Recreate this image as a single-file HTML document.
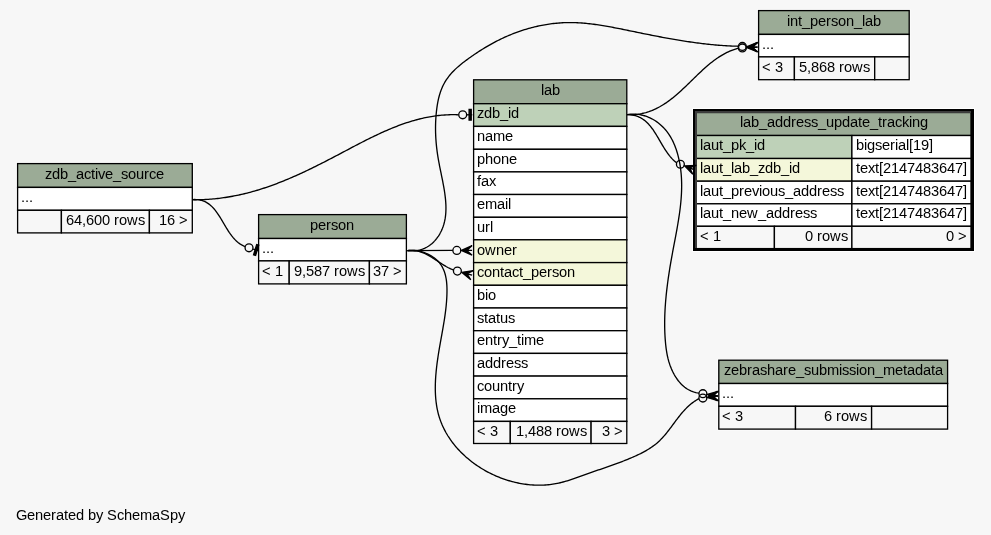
<!DOCTYPE html>
<html><head><meta charset="utf-8"><style>
html,body{margin:0;padding:0;background:#f7f7f7;width:991px;height:535px;overflow:hidden}
svg{display:block;will-change:transform}
text{font-family:"Liberation Sans", sans-serif;font-size:14.6667px;fill:#000}
</style></head><body>
<svg width="991" height="535" viewBox="0 0 991 535">
<rect x="0" y="0" width="991" height="535" fill="#f7f7f7"/>
<rect x="16.30" y="162.30" width="177.30" height="71.90" fill="#fff"/>
<rect x="17.60" y="163.60" width="174.70" height="23.80" fill="#9bab96" stroke="#000" stroke-width="1.33"/>
<rect x="17.60" y="187.40" width="174.70" height="22.90" fill="#ffffff" stroke="#000" stroke-width="1.33"/>
<rect x="17.60" y="210.30" width="43.80" height="22.60" fill="#f7f7f7" stroke="#000" stroke-width="1.33"/>
<rect x="61.40" y="210.30" width="88.00" height="22.60" fill="#f7f7f7" stroke="#000" stroke-width="1.33"/>
<rect x="149.40" y="210.30" width="42.90" height="22.60" fill="#f7f7f7" stroke="#000" stroke-width="1.33"/>
<text x="45.00 52.00 60.00 68.00 76.00 84.00 91.00 95.00 98.00 105.00 113.00 121.00 128.00 136.00 144.00 149.00 156.00" y="179.00">zdb_active_source</text>
<text x="21.00 25.00 29.00" y="202.00">...</text>
<text x="66.00 74.00 82.00 86.00 94.00 102.00 110.00 114.00 119.00 127.00 138.00" y="225.00">64,600 rows</text>
<text x="159.00 167.00 175.00 179.00" y="225.00">16 &gt;</text>
<rect x="257.30" y="213.30" width="150.40" height="71.90" fill="#fff"/>
<rect x="258.60" y="214.60" width="147.80" height="23.90" fill="#9bab96" stroke="#000" stroke-width="1.33"/>
<rect x="258.60" y="238.50" width="147.80" height="22.40" fill="#ffffff" stroke="#000" stroke-width="1.33"/>
<rect x="258.60" y="260.90" width="30.60" height="23.00" fill="#f7f7f7" stroke="#000" stroke-width="1.33"/>
<rect x="289.20" y="260.90" width="80.20" height="23.00" fill="#f7f7f7" stroke="#000" stroke-width="1.33"/>
<rect x="369.40" y="260.90" width="37.00" height="23.00" fill="#f7f7f7" stroke="#000" stroke-width="1.33"/>
<text x="310.00 318.00 326.00 331.00 338.00 346.00" y="230.00">person</text>
<text x="262.00 266.00 270.00" y="253.00">...</text>
<text x="262.00 271.00 275.00" y="276.00">&lt; 1</text>
<text x="294.00 302.00 306.00 314.00 322.00 330.00 334.00 339.00 347.00 358.00" y="276.00">9,587 rows</text>
<text x="373.00 381.00 389.00 393.00" y="276.00">37 &gt;</text>
<rect x="757.30" y="9.30" width="153.20" height="71.70" fill="#fff"/>
<rect x="758.60" y="10.60" width="150.60" height="23.80" fill="#9bab96" stroke="#000" stroke-width="1.33"/>
<rect x="758.60" y="34.40" width="150.60" height="22.50" fill="#ffffff" stroke="#000" stroke-width="1.33"/>
<rect x="758.60" y="56.90" width="35.80" height="22.80" fill="#f7f7f7" stroke="#000" stroke-width="1.33"/>
<rect x="794.40" y="56.90" width="80.30" height="22.80" fill="#f7f7f7" stroke="#000" stroke-width="1.33"/>
<rect x="874.70" y="56.90" width="34.50" height="22.80" fill="#f7f7f7" stroke="#000" stroke-width="1.33"/>
<text x="787.00 790.00 798.00 802.00 810.00 818.00 826.00 831.00 838.00 846.00 854.00 862.00 865.00 873.00" y="26.00">int_person_lab</text>
<text x="762.00 766.00 770.00" y="49.00">...</text>
<text x="762.00 771.00 775.00" y="72.00">&lt; 3</text>
<text x="799.00 807.00 811.00 819.00 827.00 835.00 839.00 844.00 852.00 863.00" y="72.00">5,868 rows</text>
<rect x="717.50" y="358.90" width="231.40" height="71.50" fill="#fff"/>
<rect x="718.80" y="360.20" width="228.80" height="23.30" fill="#9bab96" stroke="#000" stroke-width="1.33"/>
<rect x="718.80" y="383.50" width="228.80" height="22.80" fill="#ffffff" stroke="#000" stroke-width="1.33"/>
<rect x="718.80" y="406.30" width="76.70" height="22.80" fill="#f7f7f7" stroke="#000" stroke-width="1.33"/>
<rect x="795.50" y="406.30" width="76.10" height="22.80" fill="#f7f7f7" stroke="#000" stroke-width="1.33"/>
<rect x="871.60" y="406.30" width="76.00" height="22.80" fill="#f7f7f7" stroke="#000" stroke-width="1.33"/>
<text x="724.00 731.00 739.00 747.00 752.00 760.00 767.00 775.00 783.00 788.00 796.00 804.00 811.00 819.00 827.00 839.00 842.00 849.00 856.00 859.00 867.00 875.00 883.00 895.00 903.00 907.00 915.00 923.00 931.00 935.00" y="375.00">zebrashare_submission_metadata</text>
<text x="722.00 726.00 730.00" y="398.00">...</text>
<text x="722.00 731.00 735.00" y="421.00">&lt; 3</text>
<text x="824.00 832.00 836.00 841.00 849.00 860.00" y="421.00">6 rows</text>
<rect x="472.30" y="78.50" width="155.80" height="366.30" fill="#fff"/>
<rect x="473.60" y="79.80" width="153.20" height="23.90" fill="#9bab96" stroke="#000" stroke-width="1.33"/>
<rect x="473.60" y="103.70" width="153.20" height="22.70" fill="#bed1b8" stroke="#000" stroke-width="1.33"/>
<rect x="473.60" y="126.40" width="153.20" height="22.90" fill="#ffffff" stroke="#000" stroke-width="1.33"/>
<rect x="473.60" y="149.30" width="153.20" height="22.60" fill="#ffffff" stroke="#000" stroke-width="1.33"/>
<rect x="473.60" y="171.90" width="153.20" height="22.60" fill="#ffffff" stroke="#000" stroke-width="1.33"/>
<rect x="473.60" y="194.50" width="153.20" height="22.80" fill="#ffffff" stroke="#000" stroke-width="1.33"/>
<rect x="473.60" y="217.30" width="153.20" height="22.50" fill="#ffffff" stroke="#000" stroke-width="1.33"/>
<rect x="473.60" y="239.80" width="153.20" height="22.80" fill="#f4f7da" stroke="#000" stroke-width="1.33"/>
<rect x="473.60" y="262.60" width="153.20" height="22.70" fill="#f4f7da" stroke="#000" stroke-width="1.33"/>
<rect x="473.60" y="285.30" width="153.20" height="22.70" fill="#ffffff" stroke="#000" stroke-width="1.33"/>
<rect x="473.60" y="308.00" width="153.20" height="22.70" fill="#ffffff" stroke="#000" stroke-width="1.33"/>
<rect x="473.60" y="330.70" width="153.20" height="22.70" fill="#ffffff" stroke="#000" stroke-width="1.33"/>
<rect x="473.60" y="353.40" width="153.20" height="22.70" fill="#ffffff" stroke="#000" stroke-width="1.33"/>
<rect x="473.60" y="376.10" width="153.20" height="22.70" fill="#ffffff" stroke="#000" stroke-width="1.33"/>
<rect x="473.60" y="398.80" width="153.20" height="22.60" fill="#ffffff" stroke="#000" stroke-width="1.33"/>
<rect x="473.60" y="421.40" width="36.70" height="22.10" fill="#f7f7f7" stroke="#000" stroke-width="1.33"/>
<rect x="510.30" y="421.40" width="80.80" height="22.10" fill="#f7f7f7" stroke="#000" stroke-width="1.33"/>
<rect x="591.10" y="421.40" width="35.70" height="22.10" fill="#f7f7f7" stroke="#000" stroke-width="1.33"/>
<text x="541.00 544.00 552.00" y="95.00">lab</text>
<text x="477.00 484.00 492.00 500.00 508.00 511.00" y="118.00">zdb_id</text>
<text x="477.00 485.00 493.00 505.00" y="141.00">name</text>
<text x="477.00 485.00 493.00 501.00 509.00" y="164.00">phone</text>
<text x="477.00 481.00 489.00" y="186.00">fax</text>
<text x="477.00 485.00 497.00 505.00 508.00" y="209.00">email</text>
<text x="477.00 485.00 490.00" y="232.00">url</text>
<text x="477.00 485.00 496.00 504.00 512.00" y="255.00">owner</text>
<text x="477.00 484.00 492.00 500.00 504.00 512.00 519.00 523.00 531.00 539.00 547.00 552.00 559.00 567.00" y="277.00">contact_person</text>
<text x="477.00 485.00 488.00" y="300.00">bio</text>
<text x="477.00 484.00 488.00 496.00 500.00 508.00" y="323.00">status</text>
<text x="477.00 485.00 493.00 497.00 502.00 509.00 517.00 521.00 524.00 536.00" y="345.00">entry_time</text>
<text x="477.00 485.00 493.00 501.00 506.00 514.00 521.00" y="368.00">address</text>
<text x="477.00 484.00 492.00 500.00 508.00 512.00 517.00" y="391.00">country</text>
<text x="477.00 480.00 492.00 500.00 508.00" y="413.00">image</text>
<text x="477.00 486.00 490.00" y="436.00">&lt; 3</text>
<text x="516.00 524.00 528.00 536.00 544.00 552.00 556.00 561.00 569.00 580.00" y="436.00">1,488 rows</text>
<text x="602.00 610.00 614.00" y="436.00">3 &gt;</text>
<rect x="692" y="108" width="283" height="144" fill="#fff"/>
<rect x="696.20" y="112.50" width="274.80" height="23.00" fill="#9bab96" stroke="#000" stroke-width="1.33"/>
<rect x="696.20" y="135.50" width="155.70" height="23.00" fill="#bed1b8" stroke="#000" stroke-width="1.33"/>
<rect x="851.90" y="135.50" width="119.10" height="23.00" fill="#ffffff" stroke="#000" stroke-width="1.33"/>
<rect x="696.20" y="158.50" width="155.70" height="22.70" fill="#f4f7da" stroke="#000" stroke-width="1.33"/>
<rect x="851.90" y="158.50" width="119.10" height="22.70" fill="#ffffff" stroke="#000" stroke-width="1.33"/>
<rect x="696.20" y="181.20" width="155.70" height="22.60" fill="#ffffff" stroke="#000" stroke-width="1.33"/>
<rect x="851.90" y="181.20" width="119.10" height="22.60" fill="#ffffff" stroke="#000" stroke-width="1.33"/>
<rect x="696.20" y="203.80" width="155.70" height="22.50" fill="#ffffff" stroke="#000" stroke-width="1.33"/>
<rect x="851.90" y="203.80" width="119.10" height="22.50" fill="#ffffff" stroke="#000" stroke-width="1.33"/>
<rect x="696.20" y="226.30" width="78.20" height="22.30" fill="#f7f7f7" stroke="#000" stroke-width="1.33"/>
<rect x="774.40" y="226.30" width="77.50" height="22.30" fill="#f7f7f7" stroke="#000" stroke-width="1.33"/>
<rect x="851.90" y="226.30" width="119.10" height="22.30" fill="#f7f7f7" stroke="#000" stroke-width="1.33"/>
<text x="740.00 743.00 751.00 759.00 767.00 775.00 783.00 791.00 796.00 804.00 811.00 818.00 826.00 834.00 842.00 850.00 858.00 862.00 870.00 878.00 882.00 887.00 895.00 902.00 909.00 912.00 920.00" y="127.00">lab_address_update_tracking</text>
<text x="700.00 703.00 711.00 719.00 723.00 731.00 739.00 746.00 754.00 757.00" y="150.00">laut_pk_id</text>
<text x="856.00 864.00 867.00 875.00 882.00 890.00 895.00 898.00 906.00 909.00 913.00 921.00 929.00" y="150.00">bigserial[19]</text>
<text x="700.00 703.00 711.00 719.00 723.00 731.00 734.00 742.00 750.00 758.00 765.00 773.00 781.00 789.00 792.00" y="173.00">laut_lab_zdb_id</text>
<text x="856.00 860.00 868.00 875.00 879.00 883.00 891.00 899.00 907.00 915.00 923.00 931.00 939.00 947.00 955.00 963.00" y="173.00">text[2147483647]</text>
<text x="700.00 703.00 711.00 719.00 723.00 731.00 739.00 744.00 752.00 759.00 762.00 770.00 778.00 785.00 793.00 801.00 809.00 817.00 822.00 830.00 837.00" y="196.00">laut_previous_address</text>
<text x="856.00 860.00 868.00 875.00 879.00 883.00 891.00 899.00 907.00 915.00 923.00 931.00 939.00 947.00 955.00 963.00" y="196.00">text[2147483647]</text>
<text x="700.00 703.00 711.00 719.00 723.00 731.00 739.00 747.00 758.00 766.00 774.00 782.00 790.00 795.00 803.00 810.00" y="218.00">laut_new_address</text>
<text x="856.00 860.00 868.00 875.00 879.00 883.00 891.00 899.00 907.00 915.00 923.00 931.00 939.00 947.00 955.00 963.00" y="218.00">text[2147483647]</text>
<text x="700.00 709.00 713.00" y="241.00">&lt; 1</text>
<text x="805.00 813.00 817.00 822.00 830.00 841.00" y="241.00">0 rows</text>
<text x="946.00 954.00 958.00" y="241.00">0 &gt;</text>
<rect x="693" y="109" width="2" height="142" fill="#000"/>
<rect x="695" y="111" width="2" height="138" fill="#3c3c3c"/>
<rect x="693" y="109" width="281" height="2" fill="#000"/>
<rect x="695" y="111" width="276" height="2" fill="#3c3c3c"/>
<rect x="971" y="109" width="3" height="142" fill="#000"/>
<rect x="693" y="248" width="281" height="3" fill="#000"/>
<polygon points="471.23,120.13 471.23,109.47 469.10,109.47 469.10,120.13" fill="#000" stroke="#000" stroke-width="1.33"/>
<line x1="472.30" y1="114.80" x2="466.97" y2="114.80" stroke="#000" stroke-width="1.33"/>
<circle cx="462.70" cy="114.80" r="3.95" fill="none" stroke="#000" stroke-width="1.33"/>
<path d="M192.80,199.70 L194.38,199.71 L195.97,199.72 L197.54,199.70 L199.12,199.68 L200.68,199.65 L202.25,199.60 L203.80,199.54 L205.36,199.47 L206.91,199.38 L208.45,199.29 L209.99,199.18 L211.53,199.06 L213.06,198.93 L214.59,198.79 L216.11,198.64 L217.63,198.47 L219.14,198.30 L220.65,198.11 L222.16,197.92 L223.66,197.71 L225.16,197.49 L226.66,197.26 L228.15,197.02 L229.64,196.77 L231.12,196.52 L232.60,196.25 L234.08,195.97 L235.55,195.68 L237.02,195.38 L238.48,195.07 L239.95,194.75 L241.40,194.42 L242.86,194.09 L244.31,193.74 L245.76,193.39 L247.21,193.02 L248.65,192.65 L250.09,192.27 L251.53,191.88 L252.96,191.48 L254.39,191.07 L255.82,190.66 L257.25,190.24 L258.67,189.81 L260.09,189.37 L261.50,188.92 L262.92,188.46 L264.33,188.00 L265.74,187.53 L267.15,187.05 L268.55,186.57 L269.95,186.08 L271.35,185.58 L272.75,185.07 L274.15,184.56 L275.54,184.04 L276.93,183.52 L278.32,182.98 L279.71,182.44 L281.09,181.90 L282.47,181.35 L283.85,180.79 L285.23,180.23 L286.61,179.66 L287.99,179.08 L289.36,178.50 L290.73,177.92 L292.10,177.32 L293.47,176.73 L294.84,176.13 L296.20,175.52 L297.57,174.91 L298.93,174.29 L300.29,173.67 L301.66,173.04 L303.02,172.41 L304.37,171.78 L305.73,171.14 L307.09,170.49 L308.44,169.85 L309.80,169.19 L311.15,168.54 L312.50,167.88 L313.86,167.22 L315.21,166.55 L316.56,165.88 L317.91,165.21 L319.26,164.53 L320.60,163.85 L321.95,163.17 L323.30,162.48 L324.65,161.79 L325.99,161.10 L327.34,160.41 L328.69,159.71 L330.03,159.02 L331.38,158.32 L332.73,157.61 L334.07,156.91 L335.42,156.20 L336.76,155.50 L338.11,154.79 L339.45,154.08 L340.80,153.36 L342.15,152.65 L343.49,151.94 L344.84,151.22 L346.19,150.51 L347.54,149.80 L348.89,149.08 L350.23,148.37 L351.58,147.66 L352.93,146.95 L354.29,146.24 L355.64,145.53 L356.99,144.82 L358.34,144.12 L359.70,143.42 L361.05,142.72 L362.41,142.03 L363.77,141.33 L365.13,140.64 L366.49,139.96 L367.85,139.28 L369.21,138.60 L370.58,137.92 L371.94,137.25 L373.31,136.59 L374.68,135.93 L376.05,135.28 L377.42,134.63 L378.79,133.99 L380.16,133.35 L381.54,132.72 L382.92,132.10 L384.30,131.48 L385.68,130.87 L387.07,130.27 L388.45,129.67 L389.84,129.09 L391.23,128.51 L392.63,127.94 L394.02,127.37 L395.42,126.82 L396.82,126.28 L398.22,125.74 L399.62,125.21 L401.03,124.70 L402.44,124.19 L403.85,123.70 L405.27,123.21 L406.69,122.74 L408.11,122.27 L409.53,121.82 L410.96,121.38 L412.38,120.95 L413.82,120.53 L415.25,120.13 L416.69,119.74 L418.13,119.36 L419.58,118.99 L421.02,118.63 L422.47,118.29 L423.93,117.97 L425.39,117.65 L426.85,117.36 L428.31,117.07 L429.78,116.80 L431.25,116.55 L432.73,116.31 L434.21,116.09 L435.69,115.88 L437.18,115.68 L438.67,115.51 L440.16,115.35 L441.66,115.21 L443.17,115.08 L444.67,114.97 L446.18,114.88 L447.70,114.80 L449.22,114.75 L450.74,114.71 L452.27,114.69 L453.80,114.69 L455.34,114.71 L456.88,114.74 L458.43,114.80" fill="none" stroke="#000" stroke-width="1.33" stroke-linejoin="round"/>
<polygon points="255.62,255.39 258.74,245.19 256.70,244.56 253.58,254.77" fill="#000" stroke="#000" stroke-width="1.33"/>
<line x1="258.20" y1="250.60" x2="253.10" y2="249.04" stroke="#000" stroke-width="1.33"/>
<circle cx="249.02" cy="247.79" r="3.95" fill="none" stroke="#000" stroke-width="1.33"/>
<path d="M192.80,199.60 L194.56,199.52 L196.26,199.55 L197.88,199.68 L199.44,199.91 L200.93,200.23 L202.36,200.64 L203.74,201.13 L205.06,201.70 L206.33,202.36 L207.54,203.08 L208.71,203.88 L209.84,204.74 L210.93,205.66 L211.97,206.64 L212.99,207.67 L213.96,208.75 L214.91,209.88 L215.84,211.06 L216.73,212.27 L217.61,213.51 L218.47,214.79 L219.31,216.09 L220.14,217.41 L220.96,218.76 L221.77,220.11 L222.58,221.48 L223.39,222.86 L224.20,224.24 L225.01,225.62 L225.82,226.99 L226.65,228.36 L227.49,229.72 L228.35,231.05 L229.22,232.37 L230.12,233.67 L231.04,234.93 L231.98,236.17 L232.95,237.37 L233.96,238.53 L235.00,239.64 L236.08,240.71 L237.20,241.73 L238.37,242.69 L239.58,243.60 L240.83,244.44 L242.15,245.21 L243.51,245.92 L244.93,246.55" fill="none" stroke="#000" stroke-width="1.33" stroke-linejoin="round"/>
<polygon points="461.43,250.40 472.10,245.60 466.76,250.40 472.10,250.40 466.76,250.40 472.10,255.20" fill="#000" stroke="#000" stroke-width="1.33" stroke-linejoin="miter"/>
<circle cx="456.83" cy="250.40" r="3.95" fill="none" stroke="#000" stroke-width="1.33"/>
<path d="M407.50,250.60 L452.89,250.40" fill="none" stroke="#000" stroke-width="1.33" stroke-linejoin="round"/>
<polygon points="461.82,272.33 473.39,270.57 466.96,273.77 472.10,275.20 466.96,273.77 470.81,279.83" fill="#000" stroke="#000" stroke-width="1.33" stroke-linejoin="miter"/>
<circle cx="457.39" cy="271.10" r="3.95" fill="none" stroke="#000" stroke-width="1.33"/>
<path d="M407.50,250.60 L409.21,250.42 L410.89,250.34 L412.53,250.36 L414.13,250.47 L415.71,250.68 L417.26,250.96 L418.78,251.33 L420.28,251.77 L421.76,252.27 L423.21,252.84 L424.64,253.46 L426.06,254.14 L427.46,254.86 L428.85,255.62 L430.22,256.42 L431.59,257.24 L432.95,258.09 L434.30,258.96 L435.64,259.84 L436.99,260.73 L438.33,261.62 L439.68,262.51 L441.02,263.39 L442.38,264.25 L443.74,265.10 L445.10,265.92 L446.48,266.72 L447.87,267.47 L449.28,268.19 L450.70,268.86 L452.14,269.48 L453.60,270.04" fill="none" stroke="#000" stroke-width="1.33" stroke-linejoin="round"/>
<polygon points="746.94,46.67 757.84,42.40 752.27,46.93 757.60,47.20 752.27,46.93 757.36,52.00" fill="#000" stroke="#000" stroke-width="1.33" stroke-linejoin="miter"/>
<circle cx="742.35" cy="46.44" r="3.95" fill="none" stroke="#000" stroke-width="1.33"/>
<path d="M407.50,250.60 L409.23,250.80 L410.92,250.92 L412.58,250.94 L414.20,250.88 L415.79,250.75 L417.34,250.53 L418.85,250.24 L420.32,249.87 L421.75,249.43 L423.15,248.92 L424.50,248.35 L425.82,247.71 L427.10,247.01 L428.34,246.25 L429.54,245.43 L430.69,244.57 L431.81,243.65 L432.89,242.68 L433.92,241.67 L434.91,240.61 L435.86,239.52 L436.77,238.39 L437.63,237.22 L438.45,236.03 L439.23,234.80 L439.97,233.54 L440.65,232.27 L441.30,230.97 L441.90,229.65 L442.45,228.32 L442.96,226.98 L443.43,225.62 L443.85,224.25 L444.22,222.87 L444.56,221.48 L444.86,220.08 L445.12,218.68 L445.34,217.26 L445.52,215.83 L445.67,214.39 L445.79,212.94 L445.87,211.49 L445.92,210.03 L445.95,208.56 L445.94,207.08 L445.91,205.60 L445.85,204.11 L445.76,202.61 L445.66,201.11 L445.53,199.60 L445.37,198.09 L445.20,196.57 L445.01,195.05 L444.81,193.52 L444.58,191.99 L444.35,190.46 L444.09,188.92 L443.83,187.38 L443.55,185.84 L443.27,184.30 L442.98,182.76 L442.68,181.21 L442.37,179.66 L442.06,178.12 L441.74,176.57 L441.43,175.02 L441.11,173.48 L440.79,171.93 L440.47,170.39 L440.16,168.84 L439.85,167.30 L439.54,165.76 L439.25,164.23 L438.95,162.69 L438.67,161.16 L438.40,159.64 L438.14,158.11 L437.89,156.60 L437.66,155.08 L437.43,153.57 L437.22,152.06 L437.02,150.56 L436.83,149.05 L436.65,147.55 L436.49,146.06 L436.34,144.56 L436.20,143.07 L436.07,141.58 L435.96,140.09 L435.86,138.60 L435.77,137.11 L435.70,135.62 L435.64,134.14 L435.59,132.66 L435.56,131.17 L435.54,129.69 L435.53,128.20 L435.54,126.72 L435.56,125.24 L435.60,123.75 L435.64,122.27 L435.71,120.78 L435.79,119.29 L435.88,117.80 L435.99,116.31 L436.11,114.82 L436.25,113.33 L436.40,111.83 L436.56,110.33 L436.75,108.84 L436.95,107.34 L437.17,105.84 L437.41,104.35 L437.67,102.86 L437.96,101.38 L438.27,99.90 L438.60,98.44 L438.96,96.98 L439.35,95.53 L439.77,94.10 L440.21,92.68 L440.69,91.27 L441.20,89.88 L441.75,88.50 L442.33,87.15 L442.95,85.81 L443.60,84.50 L444.29,83.21 L445.02,81.94 L445.79,80.69 L446.59,79.46 L447.43,78.26 L448.29,77.07 L449.19,75.91 L450.12,74.77 L451.08,73.65 L452.06,72.55 L453.07,71.48 L454.11,70.42 L455.16,69.38 L456.24,68.37 L457.35,67.37 L458.47,66.38 L459.60,65.41 L460.76,64.46 L461.93,63.51 L463.12,62.58 L464.32,61.66 L465.53,60.75 L466.75,59.85 L467.98,58.96 L469.22,58.07 L470.47,57.19 L471.72,56.31 L472.98,55.44 L474.25,54.57 L475.52,53.71 L476.80,52.86 L478.08,52.02 L479.37,51.18 L480.66,50.35 L481.96,49.53 L483.27,48.72 L484.58,47.92 L485.90,47.13 L487.22,46.34 L488.54,45.57 L489.87,44.81 L491.21,44.06 L492.55,43.33 L493.89,42.60 L495.24,41.89 L496.59,41.18 L497.95,40.49 L499.31,39.81 L500.67,39.15 L502.04,38.49 L503.41,37.85 L504.79,37.22 L506.17,36.60 L507.56,35.99 L508.95,35.40 L510.34,34.82 L511.74,34.25 L513.13,33.70 L514.54,33.15 L515.94,32.62 L517.36,32.10 L518.77,31.60 L520.19,31.11 L521.61,30.63 L523.03,30.16 L524.45,29.71 L525.88,29.27 L527.32,28.84 L528.75,28.43 L530.19,28.03 L531.63,27.65 L533.07,27.27 L534.52,26.91 L535.97,26.57 L537.42,26.24 L538.88,25.92 L540.33,25.62 L541.79,25.33 L543.25,25.05 L544.72,24.79 L546.18,24.54 L547.65,24.31 L549.12,24.09 L550.59,23.89 L552.07,23.70 L553.54,23.52 L555.02,23.36 L556.50,23.22 L557.98,23.09 L559.46,22.97 L560.95,22.87 L562.43,22.78 L563.92,22.71 L565.41,22.66 L566.90,22.62 L568.39,22.59 L569.88,22.58 L571.37,22.59 L572.87,22.61 L574.36,22.64 L575.86,22.69 L577.36,22.76 L578.86,22.83 L580.36,22.93 L581.86,23.03 L583.36,23.15 L584.86,23.28 L586.36,23.42 L587.86,23.57 L589.36,23.73 L590.87,23.90 L592.37,24.09 L593.87,24.28 L595.38,24.48 L596.88,24.70 L598.39,24.92 L599.89,25.14 L601.39,25.38 L602.90,25.62 L604.40,25.87 L605.90,26.13 L607.41,26.39 L608.91,26.66 L610.41,26.94 L611.91,27.22 L613.41,27.50 L614.91,27.79 L616.41,28.08 L617.91,28.37 L619.41,28.67 L620.91,28.97 L622.40,29.27 L623.90,29.57 L625.39,29.88 L626.89,30.19 L628.38,30.49 L629.87,30.80 L631.36,31.10 L632.85,31.41 L634.33,31.71 L635.82,32.02 L637.30,32.32 L638.79,32.63 L640.27,32.93 L641.75,33.23 L643.23,33.53 L644.71,33.83 L646.19,34.13 L647.67,34.42 L649.14,34.72 L650.62,35.01 L652.10,35.30 L653.57,35.59 L655.05,35.88 L656.52,36.16 L658.00,36.45 L659.47,36.73 L660.95,37.01 L662.42,37.29 L663.89,37.56 L665.37,37.83 L666.84,38.10 L668.31,38.37 L669.78,38.64 L671.26,38.90 L672.73,39.16 L674.20,39.41 L675.68,39.66 L677.15,39.91 L678.62,40.16 L680.10,40.40 L681.57,40.64 L683.05,40.88 L684.52,41.11 L686.00,41.34 L687.48,41.56 L688.95,41.78 L690.43,42.00 L691.91,42.21 L693.39,42.42 L694.87,42.62 L696.35,42.82 L697.84,43.02 L699.32,43.21 L700.81,43.39 L702.29,43.57 L703.78,43.75 L705.27,43.92 L706.76,44.09 L708.25,44.25 L709.74,44.40 L711.23,44.55 L712.73,44.70 L714.22,44.84 L715.72,44.97 L717.22,45.10 L718.72,45.22 L720.23,45.34 L721.73,45.45 L723.24,45.55 L724.75,45.65 L726.26,45.74 L727.77,45.83 L729.28,45.91 L730.80,45.98 L732.32,46.04 L733.84,46.10 L735.36,46.16 L736.89,46.20 L738.42,46.24" fill="none" stroke="#000" stroke-width="1.33" stroke-linejoin="round"/>
<polygon points="746.94,47.73 757.36,42.40 752.27,47.47 757.60,47.20 752.27,47.47 757.84,52.00" fill="#000" stroke="#000" stroke-width="1.33" stroke-linejoin="miter"/>
<circle cx="742.35" cy="47.96" r="3.95" fill="none" stroke="#000" stroke-width="1.33"/>
<path d="M627.20,114.60 L628.88,114.66 L630.54,114.68 L632.17,114.66 L633.79,114.59 L635.38,114.47 L636.95,114.31 L638.51,114.11 L640.04,113.87 L641.56,113.59 L643.05,113.27 L644.53,112.92 L645.99,112.52 L647.43,112.09 L648.86,111.63 L650.26,111.13 L651.66,110.60 L653.03,110.03 L654.40,109.44 L655.74,108.81 L657.07,108.16 L658.39,107.48 L659.70,106.77 L660.99,106.03 L662.27,105.27 L663.54,104.48 L664.79,103.67 L666.04,102.84 L667.27,101.98 L668.49,101.11 L669.70,100.22 L670.91,99.30 L672.10,98.37 L673.29,97.43 L674.46,96.46 L675.63,95.49 L676.80,94.49 L677.95,93.49 L679.10,92.47 L680.24,91.45 L681.38,90.41 L682.51,89.36 L683.64,88.31 L684.76,87.25 L685.88,86.18 L686.99,85.11 L688.10,84.03 L689.21,82.95 L690.32,81.87 L691.43,80.79 L692.53,79.70 L693.64,78.62 L694.75,77.54 L695.86,76.46 L696.97,75.38 L698.08,74.31 L699.19,73.25 L700.31,72.19 L701.44,71.14 L702.56,70.09 L703.70,69.06 L704.84,68.03 L705.98,67.02 L707.13,66.02 L708.29,65.03 L709.46,64.06 L710.64,63.10 L711.82,62.16 L713.02,61.23 L714.23,60.33 L715.45,59.44 L716.67,58.57 L717.92,57.72 L719.17,56.89 L720.44,56.09 L721.72,55.31 L723.02,54.56 L724.33,53.83 L725.66,53.12 L727.00,52.45 L728.36,51.80 L729.74,51.19 L731.14,50.60 L732.56,50.04 L733.99,49.52 L735.45,49.03 L736.92,48.58 L738.42,48.16" fill="none" stroke="#000" stroke-width="1.33" stroke-linejoin="round"/>
<polygon points="684.66,165.91 696.35,165.33 689.63,167.86 694.60,169.80 689.63,167.86 692.85,174.27" fill="#000" stroke="#000" stroke-width="1.33" stroke-linejoin="miter"/>
<circle cx="680.38" cy="164.24" r="3.95" fill="none" stroke="#000" stroke-width="1.33"/>
<path d="M627.20,114.60 L628.97,114.64 L630.67,114.77 L632.30,114.98 L633.87,115.28 L635.39,115.67 L636.84,116.13 L638.24,116.66 L639.59,117.27 L640.88,117.95 L642.13,118.69 L643.33,119.49 L644.49,120.35 L645.60,121.27 L646.68,122.24 L647.73,123.26 L648.74,124.33 L649.72,125.44 L650.67,126.59 L651.59,127.77 L652.49,128.99 L653.37,130.24 L654.23,131.52 L655.07,132.82 L655.90,134.14 L656.72,135.48 L657.53,136.83 L658.33,138.19 L659.13,139.56 L659.92,140.94 L660.72,142.31 L661.52,143.69 L662.32,145.06 L663.14,146.42 L663.96,147.77 L664.80,149.10 L665.65,150.42 L666.52,151.71 L667.41,152.99 L668.32,154.23 L669.25,155.44 L670.22,156.62 L671.21,157.76 L672.24,158.87 L673.30,159.92 L674.40,160.94 L675.53,161.90 L676.71,162.81" fill="none" stroke="#000" stroke-width="1.33" stroke-linejoin="round"/>
<polygon points="707.45,394.42 718.71,391.25 712.72,395.21 718.00,396.00 712.72,395.21 717.29,400.75" fill="#000" stroke="#000" stroke-width="1.33" stroke-linejoin="miter"/>
<circle cx="702.90" cy="393.73" r="3.95" fill="none" stroke="#000" stroke-width="1.33"/>
<path d="M627.20,114.60 L628.83,114.38 L630.46,114.23 L632.06,114.15 L633.66,114.13 L635.24,114.18 L636.80,114.29 L638.35,114.46 L639.88,114.69 L641.39,114.98 L642.88,115.33 L644.35,115.74 L645.80,116.19 L647.22,116.71 L648.63,117.27 L650.01,117.88 L651.37,118.54 L652.70,119.25 L654.01,120.01 L655.28,120.81 L656.53,121.65 L657.76,122.53 L658.95,123.46 L660.11,124.42 L661.24,125.42 L662.34,126.46 L663.41,127.53 L664.44,128.63 L665.44,129.76 L666.40,130.93 L667.33,132.12 L668.22,133.34 L669.07,134.59 L669.89,135.86 L670.67,137.15 L671.41,138.47 L672.13,139.80 L672.81,141.15 L673.45,142.52 L674.07,143.91 L674.65,145.31 L675.21,146.73 L675.74,148.15 L676.24,149.59 L676.71,151.03 L677.16,152.48 L677.58,153.94 L677.98,155.40 L678.35,156.86 L678.70,158.33 L679.03,159.79 L679.34,161.26 L679.63,162.73 L679.90,164.20 L680.14,165.67 L680.37,167.14 L680.57,168.61 L680.76,170.09 L680.93,171.56 L681.08,173.03 L681.21,174.51 L681.32,175.99 L681.42,177.47 L681.50,178.94 L681.56,180.42 L681.61,181.91 L681.64,183.39 L681.65,184.87 L681.65,186.35 L681.64,187.84 L681.61,189.32 L681.57,190.81 L681.51,192.30 L681.44,193.79 L681.36,195.28 L681.26,196.77 L681.16,198.26 L681.04,199.75 L680.91,201.24 L680.77,202.74 L680.62,204.23 L680.46,205.73 L680.29,207.22 L680.11,208.72 L679.92,210.22 L679.72,211.72 L679.51,213.22 L679.30,214.72 L679.08,216.22 L678.85,217.72 L678.62,219.22 L678.38,220.73 L678.13,222.23 L677.88,223.74 L677.62,225.24 L677.36,226.75 L677.09,228.26 L676.82,229.77 L676.55,231.28 L676.27,232.79 L675.99,234.30 L675.71,235.81 L675.43,237.32 L675.14,238.84 L674.86,240.35 L674.57,241.87 L674.28,243.38 L673.99,244.90 L673.70,246.42 L673.42,247.94 L673.13,249.46 L672.85,250.98 L672.56,252.50 L672.28,254.02 L672.00,255.54 L671.73,257.06 L671.46,258.58 L671.19,260.11 L670.92,261.63 L670.66,263.16 L670.40,264.68 L670.14,266.21 L669.89,267.73 L669.64,269.26 L669.40,270.79 L669.16,272.31 L668.93,273.84 L668.70,275.37 L668.47,276.89 L668.25,278.42 L668.04,279.94 L667.83,281.47 L667.62,283.00 L667.43,284.52 L667.23,286.04 L667.05,287.57 L666.86,289.09 L666.69,290.61 L666.52,292.14 L666.36,293.66 L666.20,295.18 L666.05,296.70 L665.91,298.22 L665.77,299.73 L665.64,301.25 L665.52,302.76 L665.41,304.28 L665.30,305.79 L665.20,307.30 L665.11,308.81 L665.03,310.32 L664.96,311.83 L664.89,313.33 L664.83,314.84 L664.78,316.34 L664.74,317.84 L664.71,319.34 L664.69,320.83 L664.67,322.33 L664.67,323.82 L664.67,325.31 L664.69,326.80 L664.71,328.29 L664.75,329.77 L664.79,331.25 L664.85,332.73 L664.91,334.21 L664.99,335.68 L665.07,337.15 L665.17,338.62 L665.28,340.09 L665.40,341.55 L665.53,343.01 L665.67,344.47 L665.83,345.93 L666.00,347.38 L666.19,348.83 L666.40,350.27 L666.62,351.71 L666.87,353.15 L667.14,354.59 L667.44,356.02 L667.76,357.45 L668.10,358.88 L668.48,360.30 L668.88,361.72 L669.32,363.13 L669.78,364.54 L670.28,365.95 L670.82,367.35 L671.39,368.75 L672.00,370.15 L672.65,371.53 L673.34,372.91 L674.06,374.27 L674.83,375.62 L675.63,376.94 L676.48,378.23 L677.37,379.50 L678.30,380.73 L679.27,381.93 L680.28,383.08 L681.33,384.19 L682.43,385.26 L683.57,386.27 L684.75,387.22 L685.98,388.12 L687.25,388.96 L688.57,389.73 L689.93,390.44 L691.33,391.08 L692.78,391.65 L694.27,392.14 L695.80,392.56 L697.38,392.90 L699.01,393.15" fill="none" stroke="#000" stroke-width="1.33" stroke-linejoin="round"/>
<polygon points="707.43,397.43 717.36,391.24 712.71,396.71 718.00,396.00 712.71,396.71 718.64,400.76" fill="#000" stroke="#000" stroke-width="1.33" stroke-linejoin="miter"/>
<circle cx="702.87" cy="398.04" r="3.95" fill="none" stroke="#000" stroke-width="1.33"/>
<path d="M407.50,250.60 L409.02,250.43 L410.55,250.34 L412.10,250.33 L413.66,250.39 L415.22,250.51 L416.79,250.71 L418.35,250.98 L419.90,251.31 L421.45,251.70 L422.97,252.16 L424.48,252.67 L425.97,253.25 L427.42,253.88 L428.85,254.57 L430.23,255.31 L431.58,256.10 L432.88,256.94 L434.14,257.83 L435.34,258.76 L436.48,259.74 L437.56,260.76 L438.57,261.82 L439.52,262.92 L440.39,264.06 L441.20,265.23 L441.94,266.44 L442.62,267.68 L443.24,268.94 L443.80,270.24 L444.31,271.56 L444.77,272.91 L445.17,274.27 L445.52,275.66 L445.83,277.07 L446.10,278.50 L446.33,279.94 L446.52,281.40 L446.67,282.86 L446.79,284.34 L446.88,285.83 L446.94,287.32 L446.98,288.82 L446.99,290.32 L446.98,291.82 L446.95,293.32 L446.91,294.82 L446.85,296.31 L446.78,297.81 L446.69,299.30 L446.59,300.79 L446.48,302.27 L446.35,303.76 L446.21,305.24 L446.07,306.72 L445.91,308.20 L445.74,309.68 L445.56,311.16 L445.37,312.64 L445.17,314.12 L444.96,315.60 L444.75,317.07 L444.53,318.55 L444.30,320.03 L444.07,321.51 L443.83,322.98 L443.58,324.46 L443.33,325.94 L443.08,327.42 L442.82,328.91 L442.56,330.39 L442.29,331.88 L442.03,333.36 L441.76,334.85 L441.49,336.35 L441.22,337.84 L440.95,339.34 L440.68,340.84 L440.41,342.34 L440.15,343.84 L439.88,345.35 L439.62,346.87 L439.36,348.38 L439.10,349.90 L438.85,351.42 L438.60,352.95 L438.36,354.48 L438.12,356.01 L437.89,357.54 L437.67,359.08 L437.45,360.62 L437.24,362.15 L437.03,363.69 L436.84,365.23 L436.66,366.77 L436.48,368.32 L436.32,369.86 L436.16,371.40 L436.02,372.94 L435.88,374.48 L435.76,376.02 L435.66,377.55 L435.56,379.09 L435.48,380.62 L435.42,382.15 L435.36,383.68 L435.33,385.21 L435.31,386.73 L435.30,388.25 L435.31,389.76 L435.34,391.28 L435.39,392.78 L435.45,394.29 L435.54,395.78 L435.64,397.28 L435.76,398.77 L435.91,400.25 L436.07,401.73 L436.26,403.20 L436.46,404.66 L436.69,406.12 L436.94,407.57 L437.22,409.01 L437.52,410.45 L437.84,411.88 L438.19,413.30 L438.56,414.71 L438.96,416.11 L439.39,417.51 L439.84,418.89 L440.32,420.27 L440.83,421.64 L441.36,422.99 L441.91,424.34 L442.50,425.68 L443.10,427.00 L443.73,428.32 L444.39,429.63 L445.06,430.92 L445.76,432.21 L446.49,433.48 L447.24,434.74 L448.00,435.99 L448.80,437.23 L449.61,438.46 L450.44,439.68 L451.30,440.88 L452.18,442.07 L453.07,443.25 L453.99,444.42 L454.93,445.57 L455.88,446.72 L456.86,447.84 L457.85,448.96 L458.86,450.06 L459.89,451.15 L460.94,452.22 L462.01,453.28 L463.09,454.33 L464.19,455.36 L465.30,456.38 L466.43,457.38 L467.58,458.37 L468.75,459.35 L469.92,460.30 L471.12,461.25 L472.32,462.17 L473.54,463.09 L474.78,463.98 L476.03,464.86 L477.29,465.73 L478.56,466.57 L479.85,467.41 L481.15,468.22 L482.46,469.02 L483.78,469.80 L485.12,470.56 L486.46,471.31 L487.82,472.04 L489.18,472.75 L490.56,473.44 L491.94,474.12 L493.33,474.77 L494.74,475.41 L496.15,476.03 L497.56,476.63 L498.99,477.22 L500.43,477.78 L501.87,478.33 L503.31,478.85 L504.77,479.36 L506.23,479.84 L507.70,480.31 L509.17,480.75 L510.65,481.18 L512.13,481.58 L513.61,481.97 L515.11,482.33 L516.60,482.67 L518.10,483.00 L519.60,483.30 L521.10,483.57 L522.61,483.83 L524.12,484.07 L525.63,484.28 L527.14,484.47 L528.66,484.64 L530.17,484.79 L531.69,484.91 L533.20,485.01 L534.72,485.09 L536.23,485.15 L537.75,485.18 L539.26,485.19 L540.77,485.17 L542.28,485.13 L543.79,485.07 L545.29,484.98 L546.80,484.87 L548.29,484.73 L549.79,484.57 L551.28,484.39 L552.77,484.18 L554.25,483.94 L555.73,483.68 L557.21,483.39 L558.68,483.08 L560.14,482.75 L561.60,482.39 L563.05,482.01 L564.50,481.61 L565.95,481.20 L567.39,480.77 L568.83,480.32 L570.26,479.86 L571.69,479.39 L573.11,478.91 L574.54,478.42 L575.95,477.92 L577.37,477.42 L578.78,476.91 L580.20,476.40 L581.60,475.89 L583.01,475.38 L584.41,474.87 L585.81,474.36 L587.21,473.86 L588.61,473.36 L590.01,472.87 L591.40,472.38 L592.80,471.90 L594.19,471.41 L595.58,470.93 L596.97,470.46 L598.36,469.98 L599.75,469.51 L601.14,469.03 L602.53,468.55 L603.93,468.08 L605.32,467.60 L606.71,467.12 L608.10,466.64 L609.49,466.15 L610.89,465.66 L612.28,465.17 L613.68,464.67 L615.07,464.17 L616.47,463.66 L617.87,463.14 L619.28,462.62 L620.68,462.09 L622.09,461.55 L623.50,461.00 L624.91,460.45 L626.33,459.88 L627.75,459.30 L629.17,458.71 L630.59,458.12 L632.02,457.50 L633.45,456.88 L634.89,456.24 L636.32,455.59 L637.75,454.92 L639.17,454.24 L640.59,453.55 L641.99,452.83 L643.39,452.10 L644.77,451.35 L646.14,450.58 L647.49,449.79 L648.82,448.98 L650.13,448.15 L651.41,447.30 L652.67,446.42 L653.90,445.52 L655.11,444.60 L656.28,443.66 L657.41,442.69 L658.52,441.69 L659.60,440.68 L660.65,439.64 L661.68,438.59 L662.68,437.51 L663.67,436.42 L664.63,435.32 L665.58,434.20 L666.50,433.07 L667.42,431.93 L668.32,430.78 L669.22,429.62 L670.10,428.45 L670.98,427.28 L671.85,426.11 L672.72,424.93 L673.59,423.75 L674.46,422.57 L675.33,421.39 L676.21,420.22 L677.10,419.05 L677.99,417.88 L678.89,416.72 L679.80,415.57 L680.73,414.43 L681.67,413.30 L682.63,412.18 L683.61,411.07 L684.61,409.98 L685.64,408.91 L686.68,407.85 L687.76,406.82 L688.86,405.80 L690.00,404.81 L691.16,403.83 L692.36,402.89 L693.60,401.97 L694.88,401.07 L696.20,400.21 L697.56,399.37 L698.97,398.57" fill="none" stroke="#000" stroke-width="1.33" stroke-linejoin="round"/>
<text x="16.00 27.00 35.00 43.00 51.00 56.00 64.00 68.00 76.00 84.00 88.00 96.00 103.00 107.00 117.00 124.00 132.00 140.00 152.00 160.00 170.00 178.00" y="520.00">Generated by SchemaSpy</text>
</svg>
</body></html>
